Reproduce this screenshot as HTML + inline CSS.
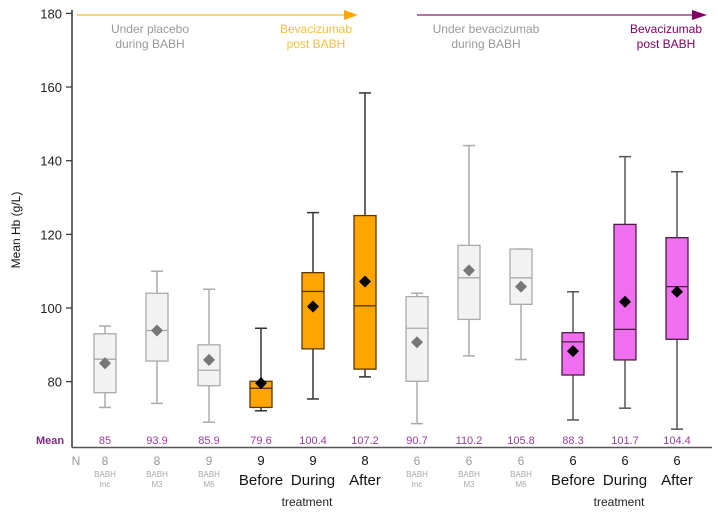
<!DOCTYPE html>
<html><head><meta charset="utf-8"><style>
body{margin:0;background:#fff;}
svg{display:block;font-family:"Liberation Sans",sans-serif;}
</style></head><body>
<svg id="c" width="718" height="514">
<g id="axes"></g><g id="marks"></g><g id="labels"></g>
</svg>
<script>
const categories=["BABH Inc","BABH M3","BABH M6","Before","During","After","BABH Inc","BABH M3","BABH M6","Before","During","After"];
const nValues=[8,8,9,9,9,8,6,6,6,6,6,6];
const means=[85,93.9,85.9,79.6,100.4,107.2,90.7,110.2,105.8,88.3,101.7,104.4];
const meanLabels=["85","93.9","85.9","79.6","100.4","107.2","90.7","110.2","105.8","88.3","101.7","104.4"];
const whiskerHigh=[95.1,110,105.1,94.5,125.9,158.4,104,144.1,116,104.4,141.1,137];
const q3=[93,104,90,80.1,109.6,125.1,103.1,117,116,93.3,122.7,119.1];
const medians=[86.1,93.9,83.1,78.2,104.5,100.6,94.5,108.2,108.2,90.8,94.2,105.8];
const q1=[77,85.6,78.9,73,88.9,83.4,80.1,96.9,101,81.8,85.9,91.5];
const whiskerLow=[73,74.1,69,72.1,75.3,81.3,68.6,87,86,69.6,72.8,67.1];
const groupType=["grey","grey","grey","orange","orange","orange","grey","grey","grey","pink","pink","pink"];
const yTicks=[80,100,120,140,160,180];

const NS="http://www.w3.org/2000/svg";
const svg=document.getElementById('c');
const gA=document.getElementById('axes'),gM=document.getElementById('marks'),gL=document.getElementById('labels');
function y(v){return 308-(v-100)*3.683;}
function x(i){return 105+i*52.0;}
function el(t,a,p,txt){const e=document.createElementNS(NS,t);for(const k in a)e.setAttribute(k,a[k]);if(txt!==undefined)e.textContent=txt;p.appendChild(e);return e;}

// axes
let e=el('line',{x1:72,y1:10,x2:72,y2:447.5,stroke:'#333','stroke-width':1.5},gA);


e=el('line',{x1:72,y1:447.5,x2:712,y2:447.5,stroke:'#555','stroke-width':1.5},gA);


yTicks.forEach(t=>{
  el('line',{x1:66,x2:72,y1:y(t),y2:y(t),stroke:'#333','stroke-width':1.2},gA);
  const tx=el('text',{x:62,y:y(t)+5,'text-anchor':'end','font-size':13,fill:'#222'},gA,String(t));
  
  
});
e=el('text',{x:20,y:230,'text-anchor':'middle','font-size':12,fill:'#111',transform:'rotate(-90 20 230)'},gA,'Mean Hb (g/L)');



const styles={grey:{fill:'#f2f2f2',stroke:'#aaa',mean:'#777',w:'#aaa'},orange:{fill:'#ffa500',stroke:'#5a3a00',mean:'#000',w:'#333'},pink:{fill:'#f06ef0',stroke:'#4a2040',mean:'#000',w:'#555'}};
const bw=22;
categories.forEach((c,i)=>{
  const s=styles[groupType[i]],cx=x(i);
  const g=el('g',{},gM);
  
  
  el('line',{x1:cx,x2:cx,y1:y(whiskerHigh[i]),y2:y(q3[i]),stroke:s.w,'stroke-width':1.5},g);
  el('line',{x1:cx,x2:cx,y1:y(q1[i]),y2:y(whiskerLow[i]),stroke:s.w,'stroke-width':1.5},g);
  el('line',{x1:cx-6,x2:cx+6,y1:y(whiskerHigh[i]),y2:y(whiskerHigh[i]),stroke:s.w,'stroke-width':1.5},g);
  el('line',{x1:cx-6,x2:cx+6,y1:y(whiskerLow[i]),y2:y(whiskerLow[i]),stroke:s.w,'stroke-width':1.5},g);
  el('rect',{x:cx-bw/2,y:y(q3[i]),width:bw,height:y(q1[i])-y(q3[i]),fill:s.fill,stroke:s.stroke,'stroke-width':1.3},g);
  el('line',{x1:cx-bw/2,x2:cx+bw/2,y1:y(medians[i]),y2:y(medians[i]),stroke:s.stroke,'stroke-width':1.3},g);
  const my=y(means[i]);
  el('polygon',{points:`${cx},${my-6} ${cx+6},${my} ${cx},${my+6} ${cx-6},${my}`,fill:s.mean},g);
  const ml=el('text',{x:cx,y:444,'text-anchor':'middle','font-size':11,fill:'#9b3a9b'},gL,meanLabels[i]);
  
  
  const grey=groupType[i]==='grey';
  const nl=el('text',{x:cx,y:465,'text-anchor':'middle','font-size':grey?12:13,fill:grey?'#999':'#111'},gL,String(nValues[i]));
  
  
  if(grey){
    const p=c.split(' ');
    const a=el('text',{x:cx,y:477,'text-anchor':'middle','font-size':8,fill:'#aaa'},gL,p[0]);
    
    
    el('text',{x:cx,y:487,'text-anchor':'middle','font-size':8,fill:'#aaa'},gL,p[1]);
  } else {
    const a=el('text',{x:cx,y:485,'text-anchor':'middle','font-size':15,fill:'#111'},gL,c);
    
    
  }
});
e=el('text',{x:50,y:444,'text-anchor':'middle','font-size':11,'font-weight':'bold',fill:'#7a2a7a'},gL,'Mean');


e=el('text',{x:76,y:465,'text-anchor':'middle','font-size':12,fill:'#999'},gL,'N');


[x(4),x(10)].forEach(tx=>{
  const t=el('text',{x:tx-6,y:506,'text-anchor':'middle','font-size':12,fill:'#222'},gL,'treatment');
  
  
});

// header arrows
e=el('line',{x1:77,x2:346,y1:15,y2:15,stroke:'#f5c842','stroke-width':1.5},gL);


el('polygon',{points:'344,10 358,15 344,20',fill:'#ffa500'},gL);
e=el('line',{x1:417,x2:694,y1:15,y2:15,stroke:'#a0408a','stroke-width':1.5},gL);


el('polygon',{points:'692,10 707,15 692,20',fill:'#800060'},gL);
const heads=[[150,'Under placebo','during BABH','#999'],[316,'Bevacizumab','post BABH','#f0c040'],[486,'Under bevacizumab','during BABH','#999'],[666,'Bevacizumab','post BABH','#800060']];
heads.forEach(h=>{
  const t=el('text',{x:h[0],y:33,'text-anchor':'middle','font-size':12,fill:h[3]},gL,h[1]);
  
  
  el('text',{x:h[0],y:48,'text-anchor':'middle','font-size':12,fill:h[3]},gL,h[2]);
});
</script>
</body></html>
